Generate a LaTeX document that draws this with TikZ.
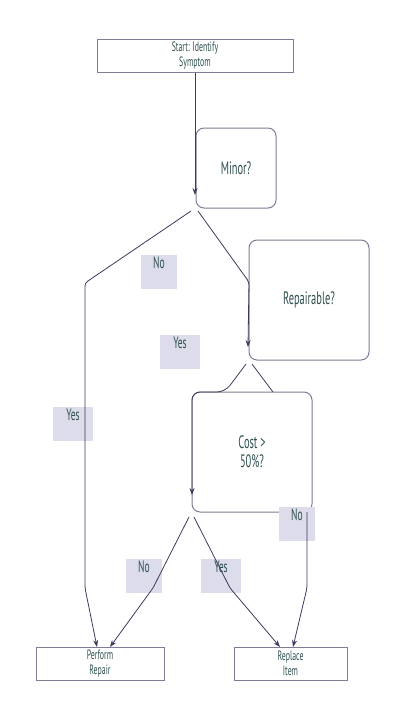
\documentclass[tikz,border=0pt]{standalone}
\usepackage{fontspec}
\setmainfont{PT Sans}[FakeStretch=0.58]
\usepackage{tikz}
\usetikzlibrary{positioning,arrows.meta}

\definecolor{boxline}{HTML}{7F7D96}
\definecolor{edgeline}{HTML}{3B3B5C}
\definecolor{labelfill}{HTML}{DCDCEA}
\definecolor{textcol}{HTML}{2F4F4F}

\begin{document}
\begin{tikzpicture}[x=1pt,y=-1pt,
	every node/.style={text=textcol,align=center},
	stepbox/.style={draw=boxline,line width=1pt,fill=white,inner sep=0pt,font=\fontsize{13.5}{15}\selectfont},
	decision/.style={draw=boxline,line width=1pt,fill=white,rounded corners=8pt,inner sep=0pt,minimum width=120pt,minimum height=120pt,font=\fontsize{18}{19}\selectfont},
	edgelabel/.style={fill=labelfill,inner sep=0pt,minimum height=34pt,text height=12pt,text depth=19pt,font=\fontsize{16.5}{16}\selectfont},
	edge/.style={draw=edgeline,line width=.8pt,rounded corners=3pt},
	arr/.style={-{Stealth[length=7pt,width=5pt]}}]
	\useasboundingbox (0,0) rectangle (406,716);

	%boxes
	\node[stepbox,minimum width=196pt,minimum height=33pt] (start) at (195,55.5) {Start: Identify\\Symptom};
	\node[stepbox,minimum width=128pt,minimum height=33pt] (repair) at (100,663.5) {Perform\\Repair};
	\node[stepbox,minimum width=113pt,minimum height=33pt] (replace) at (290.5,663.5) {Replace\\Item};

	%decisions
	\node[decision,minimum width=80pt,minimum height=80pt] (minor) at (236,168) {Minor?};
	\node[decision] (repairable) at (309,300) {Repairable?};
	\node[decision] (cost) at (252,452) {Cost >\\50\%?};

	%labels
	\node[edgelabel,minimum width=36pt] (lno1) at (159,272) {No};
	\node[edgelabel,minimum width=40pt] (lyes1) at (180,352) {Yes};
	\node[edgelabel,minimum width=40pt] (lyes2) at (73,424) {Yes};
	\node[edgelabel,minimum width=36pt] (lno2) at (297,524) {No};
	\node[edgelabel,minimum width=36pt] (lno3) at (144,575.5) {No};
	\node[edgelabel,minimum width=40pt] (lyes3) at (221,575.5) {Yes};

	%edges
	\draw[edge,arr] (start.south) -- (195,195);
	\draw[edge,arr] (191,211) -- (85,283) -- (85,588) -- (97,647);
	\draw[edge,arr] (198,211) -- (249,282) -- (248,347);
	\draw[edge,arr,rounded corners=8pt] (246,364) -- (225,392) -- (192,392) -- (192,495);
	\draw[edge] (252,364) -- (273,392);
	\draw[edge,arr] (189,517) -- (153,588) -- (110,647);
	\draw[edge,arr] (194,517) -- (230,588) -- (280,647);
	\draw[edge,arr] (307,512) -- (307,588) -- (293,647);
\end{tikzpicture}
\end{document}
